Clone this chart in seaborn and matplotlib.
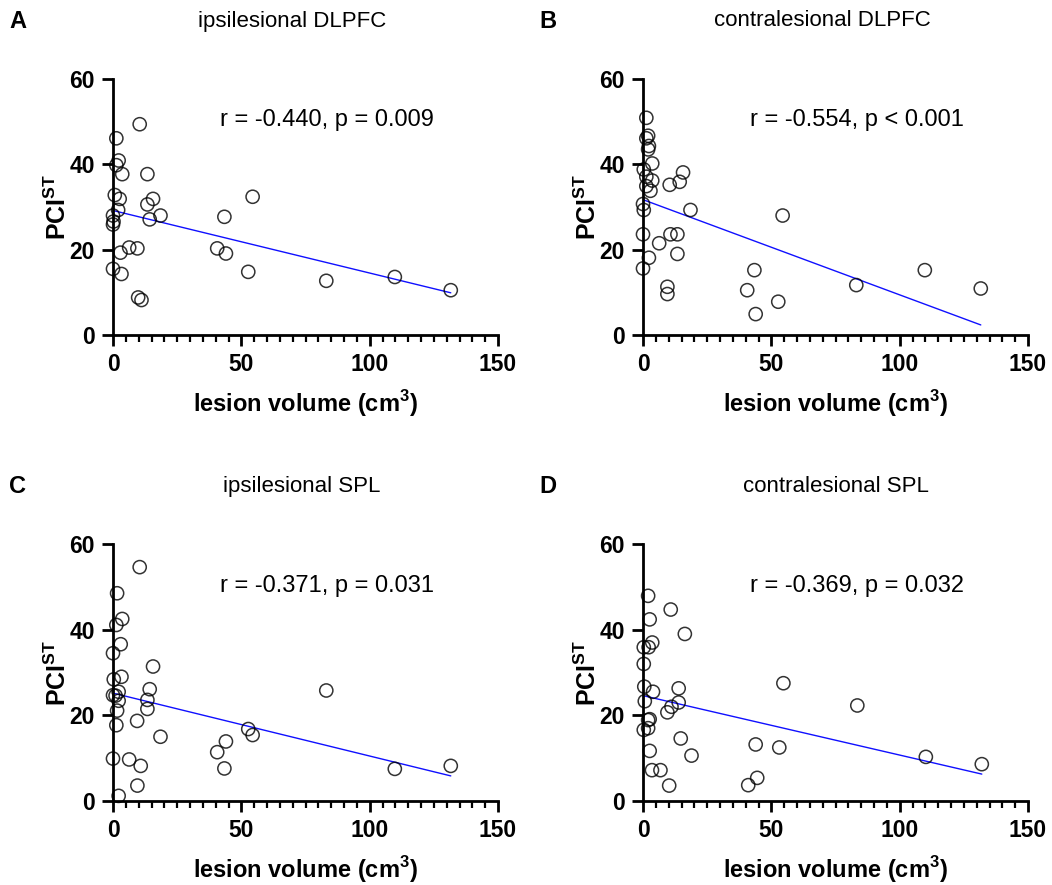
import numpy as np
import pandas as pd
import matplotlib
matplotlib.use("Agg")
import matplotlib.pyplot as plt
from matplotlib.ticker import MultipleLocator
import seaborn as sns

# values (lesion volume in cm3, PCI^ST)
a_x = [10.4, 1.3, 2.2, 1.3, 3.6, 13.4, 0.7, 2.6, 15.6, 13.4, 2.0, 0.0, 18.5, 14.3, 0.0, 0.2,
       43.4, 54.4, 2.9, 6.3, 9.5, 40.6, 44.0, 0.0, 3.3, 52.7, 9.8, 11.1, 83.1, 109.8, 131.6]
a_y = [49.4, 46.1, 40.9, 39.8, 37.7, 37.7, 32.8, 31.9, 31.9, 30.6, 29.3, 28.0, 28.0, 27.1, 25.9, 26.6,
       27.7, 32.4, 19.3, 20.5, 20.3, 20.3, 19.1, 15.5, 14.3, 14.8, 8.8, 8.2, 12.7, 13.6, 10.5]

b_x = [1.3, 2.0, 1.3, 2.3, 2.0, 3.6, 0.3, 15.6, 1.3, 14.3, 3.6, 10.4, 1.3, 2.9, 0.0, 0.3, 18.5,
       54.4, 0.0, 10.7, 13.4, 6.3, 13.4, 2.3, 0.0, 43.4, 9.5, 9.5, 40.6, 52.7, 43.9, 83.1, 109.8, 131.6]
b_y = [50.9, 46.7, 46.1, 44.3, 43.5, 40.2, 38.8, 38.1, 37.1, 35.9, 36.2, 35.2, 34.9, 33.8, 30.7, 29.3, 29.3,
       28.0, 23.6, 23.6, 23.6, 21.5, 19.0, 18.1, 15.6, 15.2, 11.3, 9.6, 10.5, 7.8, 4.9, 11.7, 15.2, 10.9]

c_x = [10.4, 1.6, 3.6, 1.3, 3.0, 0.0, 15.6, 3.3, 0.3, 14.3, 2.2, 0.0, 1.0, 2.2, 13.4, 13.4, 1.6,
       9.4, 1.3, 18.5, 52.7, 54.4, 44.0, 40.6, 0.0, 6.3, 10.8, 43.4, 9.5, 2.2, 83.1, 109.8, 131.6]
c_y = [54.6, 48.5, 42.5, 41.1, 36.6, 34.5, 31.4, 29.0, 28.4, 26.1, 25.5, 24.7, 24.6, 23.4, 23.6, 21.5, 21.1,
       18.7, 17.7, 15.0, 16.8, 15.4, 13.9, 11.4, 9.9, 9.7, 8.2, 7.6, 3.6, 1.2, 25.8, 7.5, 8.2]

d_x = [2.0, 10.8, 2.6, 16.3, 3.6, 0.3, 2.2, 0.3, 0.5, 13.9, 3.9, 54.7, 0.7, 13.9, 11.1, 9.5, 2.6,
       2.0, 0.3, 2.0, 14.7, 43.9, 53.1, 2.6, 18.9, 3.5, 6.8, 10.2, 41.0, 44.5, 83.5, 110.2, 132.0]
d_y = [47.9, 44.7, 42.4, 39.0, 37.0, 35.9, 35.9, 32.0, 26.7, 26.3, 25.5, 27.5, 23.3, 23.0, 22.0, 20.7, 19.1,
       18.9, 16.6, 17.0, 14.6, 13.2, 12.5, 11.7, 10.6, 7.2, 7.2, 3.6, 3.7, 5.4, 22.3, 10.3, 8.6]

panel_letters = ["A", "B", "C", "D"]
panel_titles = ["ipsilesional DLPFC", "contralesional DLPFC", "ipsilesional SPL", "contralesional SPL"]
stats_text = ["r = -0.440, p = 0.009", "r = -0.554, p < 0.001",
              "r = -0.371, p = 0.031", "r = -0.369, p = 0.032"]

sns.set_style("ticks")
plt.rcParams["font.family"] = ["Liberation Sans", "DejaVu Sans"]
plt.rcParams["mathtext.fontset"] = "custom"
plt.rcParams["mathtext.rm"] = "Liberation Sans"
plt.rcParams["mathtext.bf"] = "Liberation Sans:bold"
for key in ["text.color", "axes.labelcolor", "xtick.color", "ytick.color", "axes.edgecolor"]:
    plt.rcParams[key] = "black"

fig = plt.figure(figsize=(10.52, 8.85), dpi=100)

# axes boxes in figure fractions (left, bottom, width, height)
boxes = [
    [113 / 1052, 1 - 335 / 885, 385 / 1052, 256 / 885],
    [643 / 1052, 1 - 335 / 885, 385 / 1052, 256 / 885],
    [113 / 1052, 1 - 801 / 885, 385 / 1052, 257 / 885],
    [643 / 1052, 1 - 801 / 885, 385 / 1052, 257 / 885],
]
title_y = [1 - 21 / 885, 1 - 21 / 885, 1 - 487 / 885, 1 - 487 / 885]
title_shift = [-13 / 1052, -13 / 1052, -4 / 1052, 0.0]

panels = [(a_x, a_y), (b_x, b_y), (c_x, c_y), (d_x, d_y)]

for i, (xs, ys) in enumerate(panels):
    df = pd.DataFrame({"volume": xs, "pci": ys})
    ax = fig.add_axes(boxes[i])
    sns.regplot(data=df, x="volume", y="pci", ax=ax, ci=None,
                scatter_kws=dict(s=90, facecolors="none", edgecolors="black",
                                 linewidths=1.1, clip_on=False, zorder=3),
                line_kws=dict(color="#1010ff", linewidth=1.0, zorder=2))
    ax.set_xlim(0, 150)
    ax.set_ylim(0, 60)
    ax.xaxis.set_major_locator(MultipleLocator(50))
    ax.xaxis.set_minor_locator(MultipleLocator(5))
    ax.yaxis.set_major_locator(MultipleLocator(20))
    sns.despine(ax=ax)
    for sp in ["left", "bottom"]:
        ax.spines[sp].set_linewidth(2.0)
    ax.tick_params(which="major", length=8, width=2.0, labelsize=16.5, pad=5)
    ax.tick_params(which="minor", length=5, width=1.6)
    for lab in ax.get_xticklabels() + ax.get_yticklabels():
        lab.set_fontweight("bold")
    ax.set_xlabel(r"lesion volume (cm$^{\mathbf{3}}$)", fontsize=17, fontweight="bold", labelpad=9)
    ax.set_ylabel(r"$\mathbf{PCI^{ST}}$", fontsize=18, labelpad=-1)
    ax.text(41.8, 50.3, stats_text[i], fontsize=17, va="center", ha="left")

    left = boxes[i][0]
    fig.text(left + boxes[i][2] / 2 + title_shift[i], title_y[i], panel_titles[i],
             fontsize=16, ha="center", va="center")
    fig.text(left - 104 / 1052, title_y[i], panel_letters[i],
             fontsize=17, fontweight="bold", ha="left", va="center")

fig.savefig("out.png", dpi=100)
